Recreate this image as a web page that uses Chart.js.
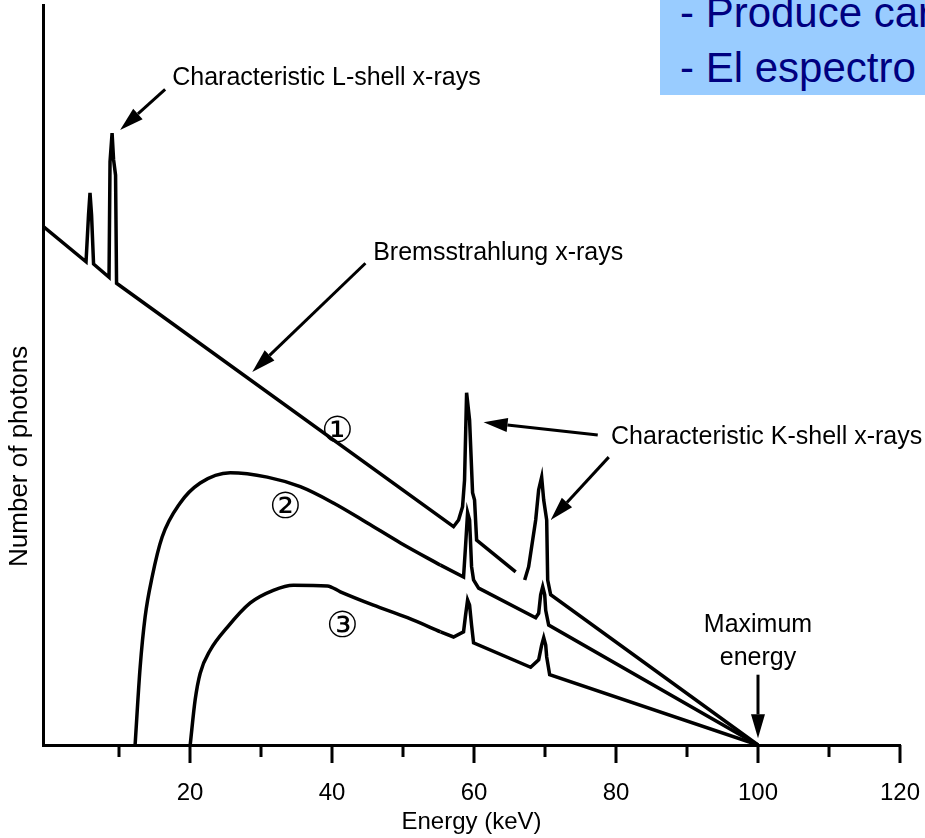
<!DOCTYPE html>
<html>
<head>
<meta charset="utf-8">
<script src="https://cdn.jsdelivr.net/npm/chart.js@4.4.0/dist/chart.umd.min.js"></script>
<style>
  body { margin: 0; background: #fff; }
  #wrap { position: relative; width: 925px; height: 838px; }
  #box {
    position: absolute; left: 660px; top: 0; width: 265px; height: 95px;
    background: #99ccff; overflow: hidden; white-space: nowrap;
    font-family: "Liberation Sans", Arial, sans-serif; font-size: 42px;
    line-height: 1; color: #000080;
  }
  #box div { position: absolute; left: 20px; }
</style>
</head>
<body>
<div id="wrap">
  <canvas id="spectrum" width="925" height="838"></canvas>
  <div id="box">
    <div style="top:-8px">- Produce características</div>
    <div style="top:47px">- El espectro continuo</div>
  </div>
</div>
<script>
// energy (keV) / number of photons (arbitrary units)
const curve1Energy = [-0.56, 5.36, 5.71, 5.92, 6.14, 6.42, 8.60, 8.74, 9.03, 9.24, 9.52, 9.66,
  57.12, 57.83, 58.39, 58.67, 58.96, 59.38, 59.80, 60.08, 60.37, 65.87, 66.5,
  67.14, 67.70, 68.69, 69.11, 69.53, 69.82, 70.24, 70.38, 70.80, 100];
const curve1Photons = [70.0, 65.3, 71.6, 74.6, 71.6, 65.0, 63.2, 78.8, 82.7, 79.1, 77.0, 62.4,
  29.5, 30.4, 32.2, 35.8, 47.6, 43.9, 34.1, 33.1, 27.7, 23.4, null,
  22.3, 24.1, 30.4, 34.5, 36.2, 33.1, 30.4, 22.3, 20.3, 0];

const curve2Energy = [12.27, 12.98, 13.68, 14.67, 16.08, 18.62, 21.44, 25.67, 30.89, 35.54,
  40.20, 44.99, 49.65, 55.29, 58.53, 58.82, 59.10, 59.38, 59.66, 59.94, 60.65,
  68.69, 69.11, 69.39, 69.68, 69.96, 70.10, 70.52, 100];
const curve2Photons = [0, 10.5, 17.3, 22.7, 28.1, 32.7, 35.4, 36.8, 36.2, 34.9,
  32.7, 30.0, 27.3, 24.3, 22.7, 27.0, 31.4, 30.4, 24.1, 22.3, 21.2,
  17.2, 17.8, 20.3, 21.4, 20.3, 18.2, 16.2, 0];

const curve3Energy = [20.03, 20.73, 21.44, 22.85, 25.25, 28.49, 31.73, 34.56, 39.35, 41.18,
  45.84, 50.63, 55.29, 57.12, 58.53, 58.82, 59.10, 59.38, 59.66, 59.94,
  67.98, 69.11, 69.53, 69.82, 70.10, 70.24, 70.66, 100];
const curve3Photons = [0, 6.1, 9.7, 12.8, 15.9, 19.2, 20.9, 21.6, 21.5, 20.7,
  18.9, 17.2, 15.3, 14.6, 15.3, 17.6, 19.6, 18.9, 16.2, 13.8,
  10.5, 11.5, 13.5, 14.5, 13.5, 11.9, 9.5, 0];

// the filtered curves are smooth up to here, straight segments after
const smoothUntil = 55.29;

const energyTicks = [10, 20, 30, 40, 50, 60, 70, 80, 90, 100, 110, 120];
const labelledTicks = [20, 40, 60, 80, 100, 120];

// annotation placement, in chart units
const notes = [
  { text: 'Characteristic L-shell x-rays', x: 17.5, y: 90.1 },
  { text: 'Bremsstrahlung x-rays', x: 45.8, y: 66.5 },
  { text: 'Characteristic K-shell x-rays', x: 79.3, y: 41.6 },
  { text: 'Maximum', x: 100, y: 16.2, center: true },
  { text: 'energy', x: 100, y: 11.8, center: true }
];
const circled = [
  { text: '\u2460', x: 40.76, y: 42.2 },
  { text: '\u2461', x: 33.43, y: 32.0 },
  { text: '\u2462', x: 41.47, y: 15.8 }
];
const arrows = [
  [16.5, 88.6, 10.16, 83.1],
  [44.71, 65.1, 28.77, 50.4],
  [77.43, 41.9, 61.35, 43.6],
  [78.98, 38.9, 70.80, 30.4],
  [100, 9.5, 100, 0.9]
];

function toPoints(xs, ys) {
  return xs.map((x, i) => ({ x: x, y: ys[i] }));
}

function drawArrow(ctx, x1, y1, x2, y2) {
  const ang = Math.atan2(y2 - y1, x2 - x1);
  const len = 24, half = 7;
  const bx = x2 - len * Math.cos(ang), by = y2 - len * Math.sin(ang);
  ctx.beginPath();
  ctx.moveTo(x1, y1);
  ctx.lineTo(bx, by);
  ctx.stroke();
  ctx.beginPath();
  ctx.moveTo(x2, y2);
  ctx.lineTo(bx + half * Math.sin(ang), by - half * Math.cos(ang));
  ctx.lineTo(bx - half * Math.sin(ang), by + half * Math.cos(ang));
  ctx.closePath();
  ctx.fill();
}

const decorations = {
  id: 'decorations',
  afterDraw(chart) {
    const ctx = chart.ctx;
    const xs = chart.scales.x, ys = chart.scales.y;
    const axisY = chart.chartArea.bottom;
    ctx.save();
    ctx.strokeStyle = '#000';
    ctx.fillStyle = '#000';
    ctx.lineWidth = 3;

    // tick marks below the axis, long for labelled ones
    energyTicks.forEach(v => {
      const px = Math.round(xs.getPixelForValue(v));
      const len = labelledTicks.includes(v) ? 18 : 12;
      ctx.beginPath();
      ctx.moveTo(px, axisY);
      ctx.lineTo(px, axisY + len);
      ctx.stroke();
    });

    ctx.font = '25px "Liberation Sans", Arial, sans-serif';
    ctx.textBaseline = 'middle';
    notes.forEach(n => {
      ctx.textAlign = n.center ? 'center' : 'left';
      ctx.fillText(n.text, xs.getPixelForValue(n.x), ys.getPixelForValue(n.y));
    });

    ctx.font = '36px "DejaVu Sans", sans-serif';
    ctx.textAlign = 'center';
    circled.forEach(c => {
      ctx.fillText(c.text, xs.getPixelForValue(c.x), ys.getPixelForValue(c.y));
    });

    arrows.forEach(a => {
      drawArrow(ctx, xs.getPixelForValue(a[0]), ys.getPixelForValue(a[1]),
        xs.getPixelForValue(a[2]), ys.getPixelForValue(a[3]));
    });

    // y axis title, sitting lower than the middle as in the figure
    ctx.translate(20, ys.getPixelForValue(39));
    ctx.rotate(-Math.PI / 2);
    ctx.font = '26px "Liberation Sans", Arial, sans-serif';
    ctx.fillText('Number of photons', 0, 0);
    ctx.restore();
  }
};

const lineStyle = {
  borderColor: '#000',
  borderWidth: 3.5,
  pointRadius: 0,
  fill: false
};

function curveSets(name, xs, ys) {
  const pts = toPoints(xs, ys);
  return [
    Object.assign({ label: name + ' low', data: pts.filter(p => p.x <= smoothUntil), cubicInterpolationMode: 'monotone' }, lineStyle),
    Object.assign({ label: name + ' high', data: pts.filter(p => p.x >= smoothUntil), tension: 0 }, lineStyle)
  ];
}

new Chart(document.getElementById('spectrum').getContext('2d'), {
  type: 'line',
  data: {
    datasets: [
      Object.assign({ label: '1', data: toPoints(curve1Energy, curve1Photons), tension: 0 }, lineStyle),
      ...curveSets('2', curve2Energy, curve2Photons),
      ...curveSets('3', curve3Energy, curve3Photons)
    ]
  },
  options: {
    responsive: false,
    animation: false,
    layout: { padding: { top: 5, right: 25, left: 0, bottom: 0 } },
    plugins: { legend: { display: false }, tooltip: { enabled: false } },
    scales: {
      x: {
        type: 'linear',
        min: -0.7,
        max: 120,
        afterFit: s => {
          s.height = 93;
          // the last label may hang over the right edge, as in the figure
          s.paddingLeft = 0;
          s.paddingRight = 0;
        },
        afterBuildTicks: s => { s.ticks = energyTicks.map(v => ({ value: v })); },
        grid: { display: false },
        border: { display: true, color: '#000', width: 3 },
        ticks: {
          autoSkip: false,
          maxRotation: 0,
          padding: 26,
          color: '#000',
          font: { family: '"Liberation Sans", Arial, sans-serif', size: 24 },
          callback: v => labelledTicks.includes(v) ? String(v) : ''
        },
        title: {
          display: true,
          text: 'Energy (keV)',
          color: '#000',
          font: { family: '"Liberation Sans", Arial, sans-serif', size: 24 },
          padding: { top: 0, bottom: 1 }
        }
      },
      y: {
        min: 0,
        max: 100,
        afterFit: s => { s.width = 43; },
        grid: { display: false },
        border: { display: true, color: '#000', width: 3 },
        ticks: { display: false }
      }
    }
  },
  plugins: [decorations]
});
</script>
</body>
</html>
